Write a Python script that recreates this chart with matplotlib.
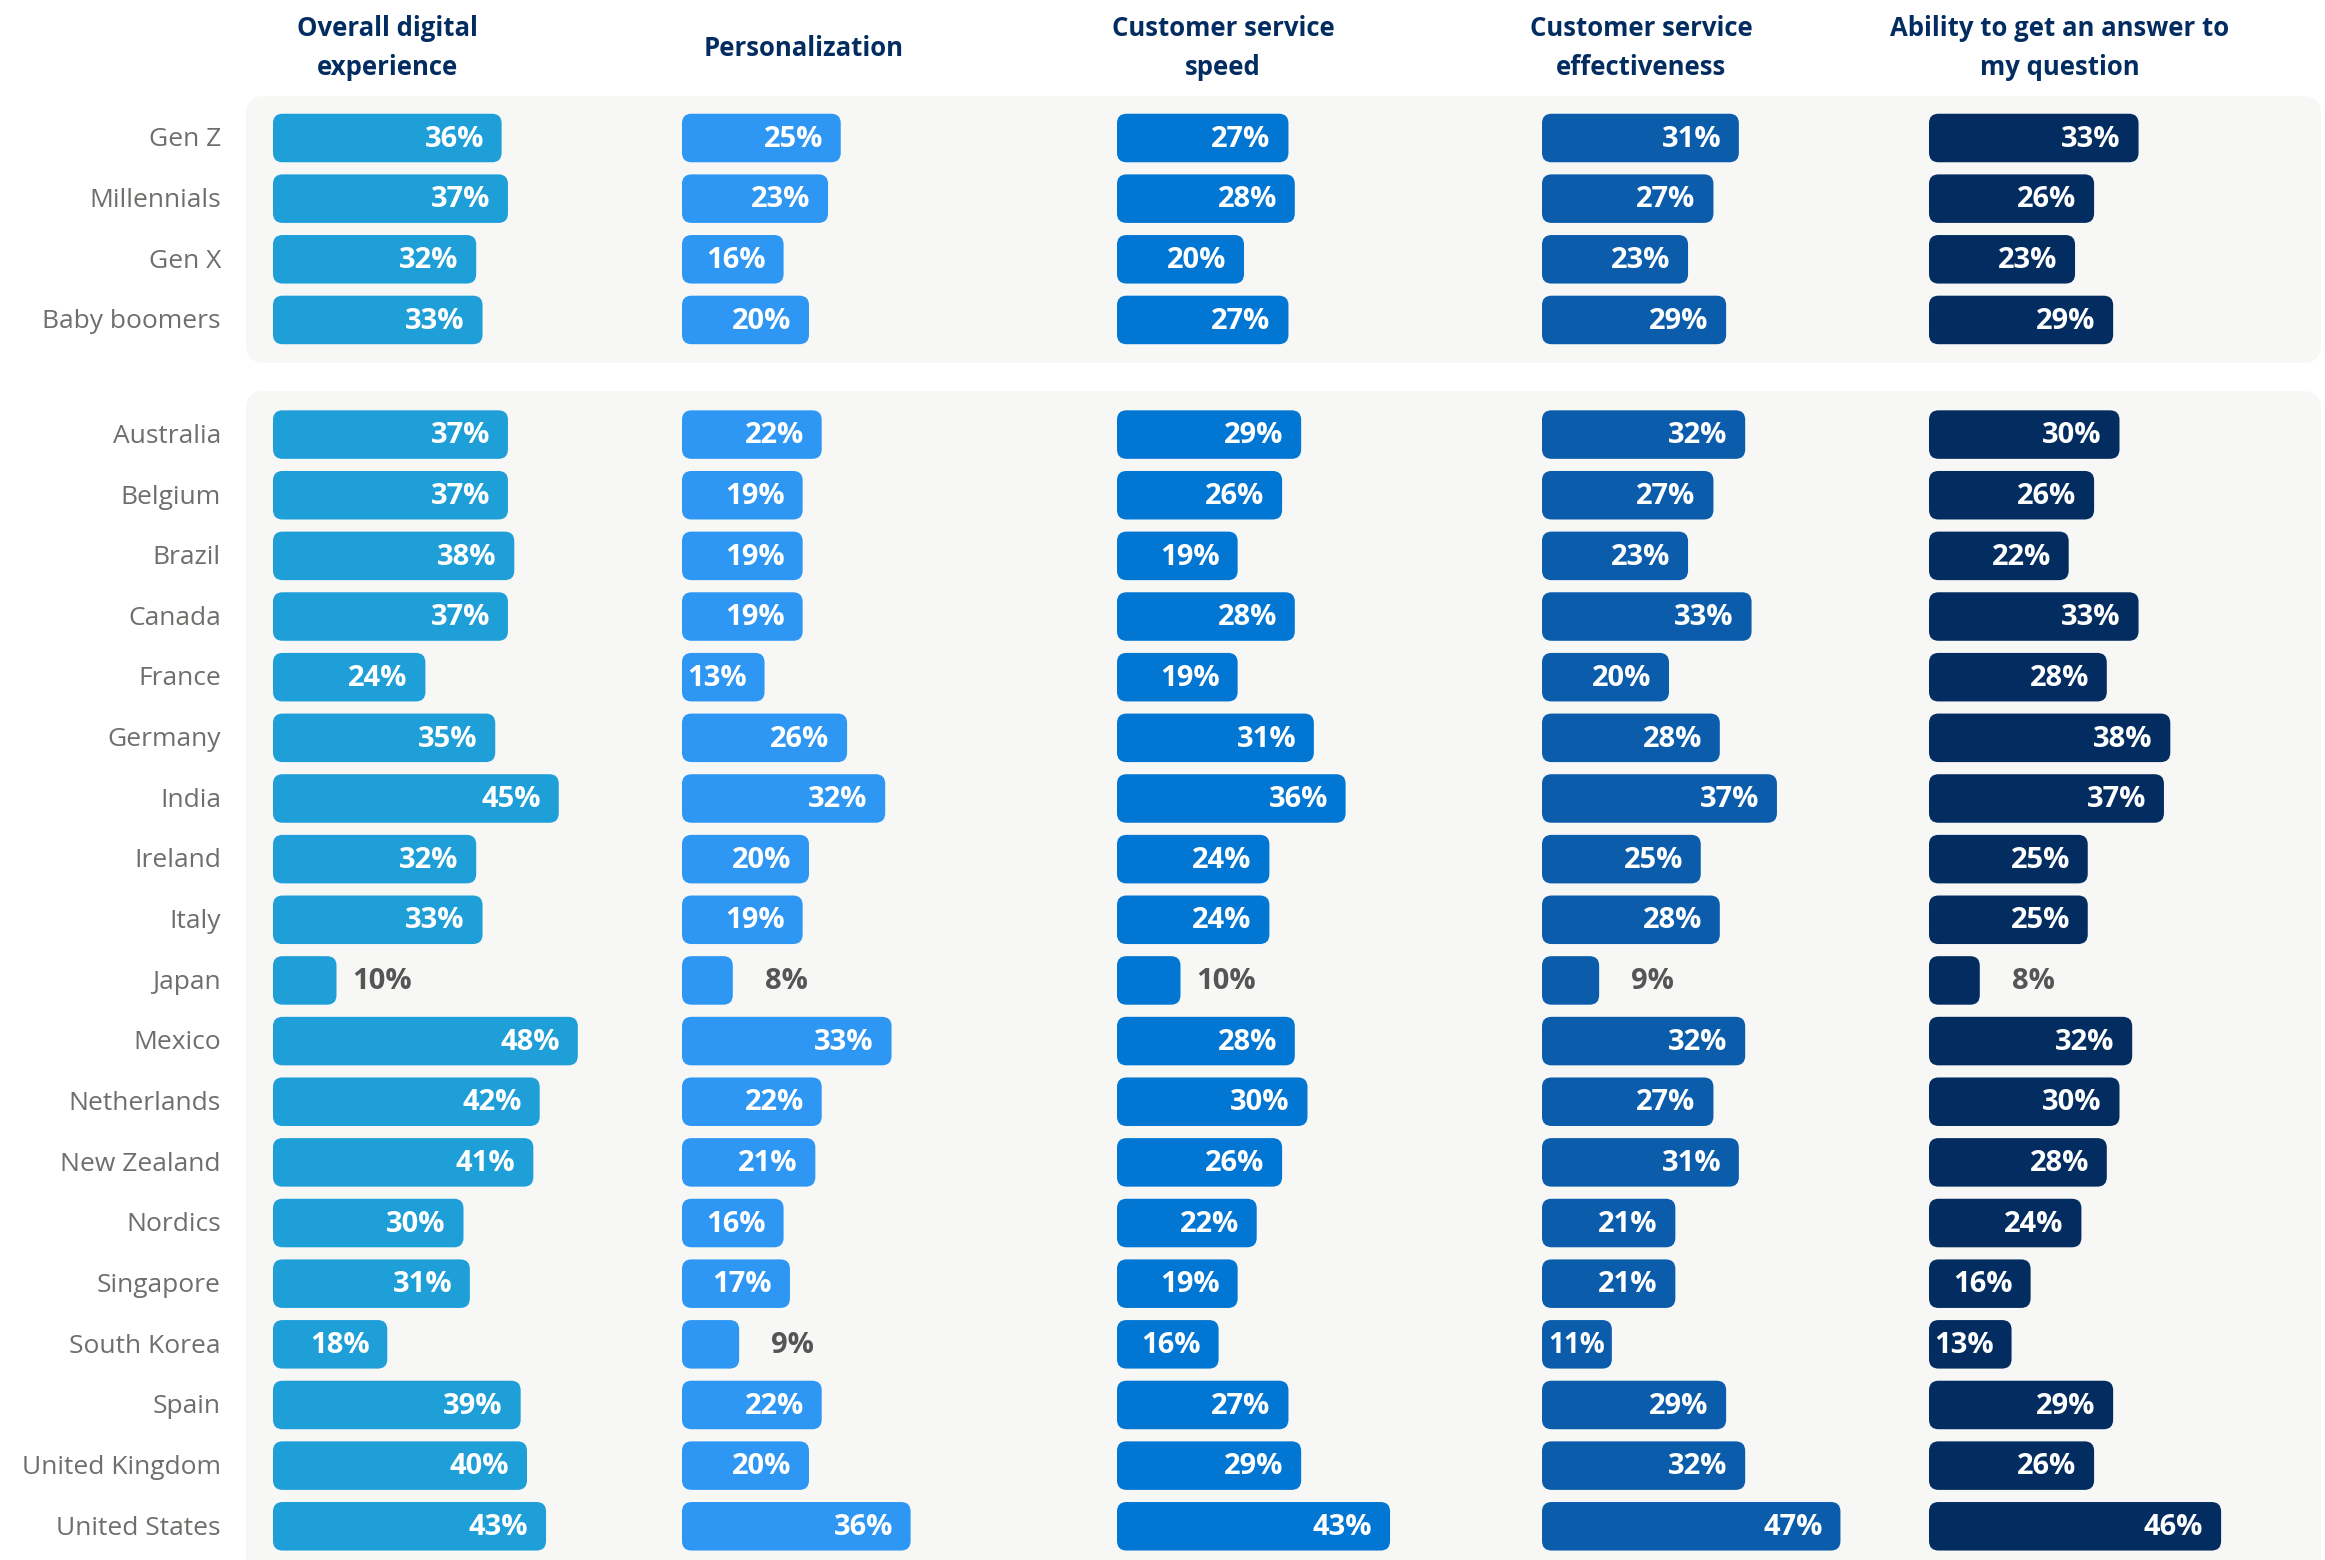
import numpy as np
from matplotlib import pyplot as plt
from matplotlib.patches import FancyBboxPatch
from matplotlib import transforms

plt.rcParams['font.family'] = ['Open Sans', 'DejaVu Sans']

headers = ["Overall digital\nexperience", "Personalization", "Customer service\nspeed",
           "Customer service\neffectiveness", "Ability to get an answer to\nmy question"]
colors = ["#1E9FD8", "#2E97F4", "#0176D3", "#0B5CAB", "#032D60"]

generations = ["Gen Z", "Millennials", "Gen X", "Baby boomers"]
gen_values = [
    [36, 37, 32, 33],
    [25, 23, 16, 20],
    [27, 28, 20, 27],
    [31, 27, 23, 29],
    [33, 26, 23, 29],
]

countries = ["Australia", "Belgium", "Brazil", "Canada", "France", "Germany", "India",
             "Ireland", "Italy", "Japan", "Mexico", "Netherlands", "New Zealand", "Nordics",
             "Singapore", "South Korea", "Spain", "United Kingdom", "United States"]
country_values = [
    [37, 37, 38, 37, 24, 35, 45, 32, 33, 10, 48, 42, 41, 30, 31, 18, 39, 40, 43],
    [22, 19, 19, 19, 13, 26, 32, 20, 19, 8, 33, 22, 21, 16, 17, 9, 22, 20, 36],
    [29, 26, 19, 28, 19, 31, 36, 24, 24, 10, 28, 30, 26, 22, 19, 16, 27, 29, 43],
    [32, 27, 23, 33, 20, 28, 37, 25, 28, 9, 32, 27, 31, 21, 21, 11, 29, 32, 47],
    [30, 26, 22, 33, 28, 38, 37, 25, 25, 8, 32, 30, 28, 24, 16, 13, 29, 26, 46],
]

# row positions: generations on top, countries below after a gap
gen_y = np.arange(len(generations))
country_y = 4.89 + np.arange(len(countries))
labels = generations + countries
ys = np.concatenate([gen_y, country_y])

W, H = 2325, 1560
fig = plt.figure(figsize=(W / 100, H / 100), dpi=100)
fig.patch.set_facecolor("white")

# light panels behind the two groups (pixel box -> figure fraction)
def panel(x0, y0, x1, y1):
    p = FancyBboxPatch((x0 / W, 1 - y1 / H), (x1 - x0) / W, (y1 - y0) / H,
                       boxstyle="round,pad=0,rounding_size=0.008",
                       mutation_aspect=W / H, transform=fig.transFigure,
                       facecolor="#F7F7F6", edgecolor="none", zorder=-5)
    fig.patches.append(p)

panel(246, 96, 2321, 363)
panel(246, 391, 2321, 1600)

col_left = [273, 682, 1117, 1542, 1929]   # bar start of each column, px
col_center = [387, 804, 1223, 1641, 2060]  # header centre, px
px_per_pct = 6.35
row_px = 60.65
row0_px = 138

ax_w = 62 * px_per_pct
ylim_top = -row0_px / row_px
ylim_bot = (H - row0_px) / row_px
bar_h = 0.8
rs = 1.5                     # corner radius in % units
aspect = px_per_pct / row_px

for c in range(5):
    ax = fig.add_axes([col_left[c] / W, 0, ax_w / W, 1])
    ax.set_xlim(0, 62)
    ax.set_ylim(ylim_bot, ylim_top)
    ax.axis("off")
    ax.set_zorder(1)
    vals = gen_values[c] + country_values[c]
    for y, v in zip(ys, vals):
        bar = FancyBboxPatch((0, y - bar_h / 2), v, bar_h,
                             boxstyle=f"round,pad=0,rounding_size={rs}",
                             mutation_aspect=aspect, facecolor=colors[c],
                             edgecolor="none", clip_on=False)
        ax.add_patch(bar)
        if v >= 13:
            ax.text(v - 2.8, y + 0.02, f"{v}%", ha="right", va="center",
                    color="white", fontsize=21, fontweight="bold")
        elif v >= 11:
            # narrow bar: label goes in the middle
            ax.text(v / 2, y + 0.02, f"{v}%", ha="center", va="center",
                    color="white", fontsize=20, fontweight="bold")
        else:
            # small values sit outside, right-aligned in a fixed-width slot
            ax.text(v + 11.8, y + 0.02, f"{v}%", ha="right", va="center",
                    color="#555555", fontsize=21, fontweight="bold")
    fig.text(col_center[c] / W, 1 - 48 / H, headers[c], ha="center", va="center",
             color="#032D60", fontsize=18.5, fontweight="bold", linespacing=1.55)
    if c == 0:
        tr = transforms.blended_transform_factory(fig.transFigure, ax.transData)
        for y, lab in zip(ys, labels):
            ax.text(221 / W, y + 0.03, lab, transform=tr, ha="right", va="center",
                    color="#706E6B", fontsize=19)

fig.savefig("out.png", dpi=100, facecolor="white")
